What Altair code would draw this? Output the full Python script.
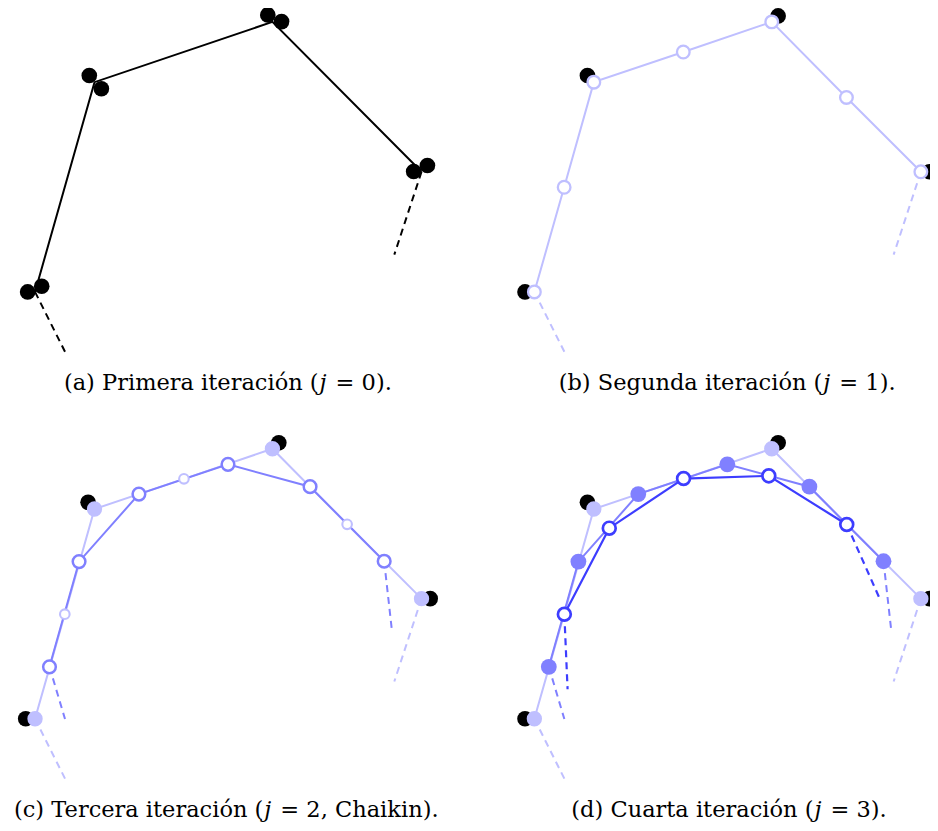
import altair as alt
import pandas as pd

# ---------------- data (diagram units, y grows downward) ----------------
PANELS = ["a", "b", "c", "d"]
PANEL_DX = [0, 508, 0, 508]
PANEL_DY = [0, 0, 430, 430]

# j = 0, panel (a): every control point drawn as a doubled dot
A_DOT_X = [20.0, 34.3, 82.7, 95.0, 264.3, 278.3, 412.7, 426.7]
A_DOT_Y = [293.0, 287.3, 75.0, 88.3, 14.0, 20.7, 171.7, 165.7]

# original control points shown in black in panels b-d
P_X = [18.0, 81.5, 275.5, 429.5]
P_Y = [293.0, 75.0, 15.0, 172.0]

# level j = 1 : vertices (V) and inserted midpoints (M)
V_X = [27.5, 88.0, 269.0, 420.7]
V_Y = [293.0, 81.7, 21.0, 172.0]
M_X = [57.8, 179.0, 345.0]
M_Y = [187.6, 51.3, 97.1]

# level j = 2 (Chaikin)
O_X = [42.2, 72.3, 133.2, 223.8, 307.3, 382.7]
O_Y = [240.7, 134.7, 66.7, 36.7, 59.2, 134.3]

# level j = 3
D_X = [58.0, 103.7, 179.3, 266.0, 345.3]
D_Y = [187.7, 101.0, 51.0, 48.3, 97.3]

# dashed continuations (end points, first then last)
EXT1_X = [58.0, 393.0]
EXT1_Y = [353.3, 255.5]
EXT2_X = [58.0, 390.5]
EXT2_Y = [293.3, 203.3]
EXT3_X = [61.3, 378.7]
EXT3_Y = [263.3, 171.7]

CAPTION_PRE = ["(a) Primera iteración (", "(b) Segunda iteración (",
               "(c) Tercera iteración (", "(d) Cuarta iteración ("]
CAPTION_VAR = ["j", "j", "j", "j"]
CAPTION_POST = ["= 0).", "= 1).", "= 2, Chaikin).", "= 3)."]
CAPTION_X = [316.0, 320.5, 259.8, 311.4]   # where the italic j starts
CAPTION_Y = [392.0, 392.0, 392.0, 392.0]   # baseline

LIGHT = "#bfbfff"
MED = "#8080ff"
DARK = "#3d3dff"


# ---------------- helpers building tables from the arrays ----------------
def pts(panels, xs, ys):
    rows = []
    for p in panels:
        i = PANELS.index(p)
        for k, (x, y) in enumerate(zip(xs, ys)):
            rows.append({"panel": p, "seq": k, "gx": x + PANEL_DX[i], "gy": y + PANEL_DY[i]})
    return pd.DataFrame(rows)


def ext(panels, xs, ys, ex, ey):
    rows = []
    for p in panels:
        i = PANELS.index(p)
        for (sx, sy, tx, ty) in [(xs[0], ys[0], ex[0], ey[0]), (xs[-1], ys[-1], ex[1], ey[1])]:
            rows.append({"panel": p, "gx": sx + PANEL_DX[i], "gy": sy + PANEL_DY[i],
                         "gx2": tx + PANEL_DX[i], "gy2": ty + PANEL_DY[i]})
    return pd.DataFrame(rows)


L1_X, L1_Y = [], []
for k in range(len(V_X)):
    L1_X.append(V_X[k]); L1_Y.append(V_Y[k])
    if k < len(M_X):
        L1_X.append(M_X[k]); L1_Y.append(M_Y[k])

X = alt.X("gx:Q", scale=alt.Scale(domain=[0, 938], nice=False, zero=False), axis=None)
Y = alt.Y("gy:Q", scale=alt.Scale(domain=[7, 828], nice=False, zero=False, reverse=True), axis=None)


def polyline(df, color, sw):
    return alt.Chart(df).mark_line(color=color, strokeWidth=sw).encode(
        x=X, y=Y, detail="panel:N", order="seq:Q")


def dashed(df, color, sw):
    return alt.Chart(df).mark_rule(color=color, strokeWidth=sw, strokeDash=[7, 5]).encode(
        x=X, y=Y, x2="gx2:Q", y2="gy2:Q")


def filled(df, color, size):
    return alt.Chart(df).mark_point(shape="circle", filled=True, color=color, size=size,
                                    opacity=1, strokeWidth=0).encode(x=X, y=Y)


def hollow(df, color, size, sw):
    return alt.Chart(df).mark_point(shape="circle", filled=True, fill="white", stroke=color,
                                    strokeWidth=sw, size=size, opacity=1).encode(x=X, y=Y)


layers = [
    # lines
    polyline(pts(["a"], V_X, V_Y), "black", 2.0),
    polyline(pts(["b", "c", "d"], L1_X, L1_Y), LIGHT, 2.0),
    polyline(pts(["c", "d"], O_X, O_Y), MED, 2.0),
    polyline(pts(["d"], D_X, D_Y), DARK, 2.2),
    dashed(ext(["a"], V_X, V_Y, EXT1_X, EXT1_Y), "black", 2.0),
    dashed(ext(["b", "c", "d"], V_X, V_Y, EXT1_X, EXT1_Y), LIGHT, 2.0),
    dashed(ext(["c", "d"], O_X, O_Y, EXT2_X, EXT2_Y), MED, 2.0),
    dashed(ext(["d"], D_X, D_Y, EXT3_X, EXT3_Y), DARK, 2.2),
    # points
    filled(pts(["a"], A_DOT_X, A_DOT_Y), "black", 245),
    filled(pts(["b", "c", "d"], P_X, P_Y), "black", 245),
    hollow(pts(["b"], L1_X, L1_Y), LIGHT, 160, 2.3),
    filled(pts(["c", "d"], V_X, V_Y), LIGHT, 235),
    hollow(pts(["c"], M_X, M_Y), LIGHT, 92, 2.1),
    filled(pts(["d"], O_X, O_Y), MED, 250),
    hollow(pts(["c"], O_X, O_Y), MED, 160, 2.5),
    hollow(pts(["d"], D_X, D_Y), DARK, 165, 2.7),
]

cap_rows = []
for i, p in enumerate(PANELS):
    cap_rows.append({"panel": p, "gx": CAPTION_X[i] + PANEL_DX[i], "gy": CAPTION_Y[i] + PANEL_DY[i],
                     "pre": CAPTION_PRE[i], "var": CAPTION_VAR[i], "post": CAPTION_POST[i]})
cap = pd.DataFrame(cap_rows)
FONT = "DejaVu Serif"
FS = 22.5
layers += [
    alt.Chart(cap).mark_text(font=FONT, fontSize=FS, align="right", baseline="alphabetic",
                             color="black", dx=0).encode(x=X, y=Y, text="pre:N"),
    alt.Chart(cap).mark_text(font=FONT, fontSize=FS, fontStyle="italic", align="left",
                             baseline="alphabetic", color="black", dx=1).encode(x=X, y=Y, text="var:N"),
    alt.Chart(cap).mark_text(font=FONT, fontSize=FS, align="left", baseline="alphabetic",
                             color="black", dx=17).encode(x=X, y=Y, text="post:N"),
]

chart = alt.layer(*layers).properties(
    width=922, height=815,
    autosize=alt.AutoSizeParams(type="none"),
    padding=0,
    background="white",
).configure_view(stroke=None)

chart.save("out.html", embed_options={"renderer": "svg", "actions": False})
